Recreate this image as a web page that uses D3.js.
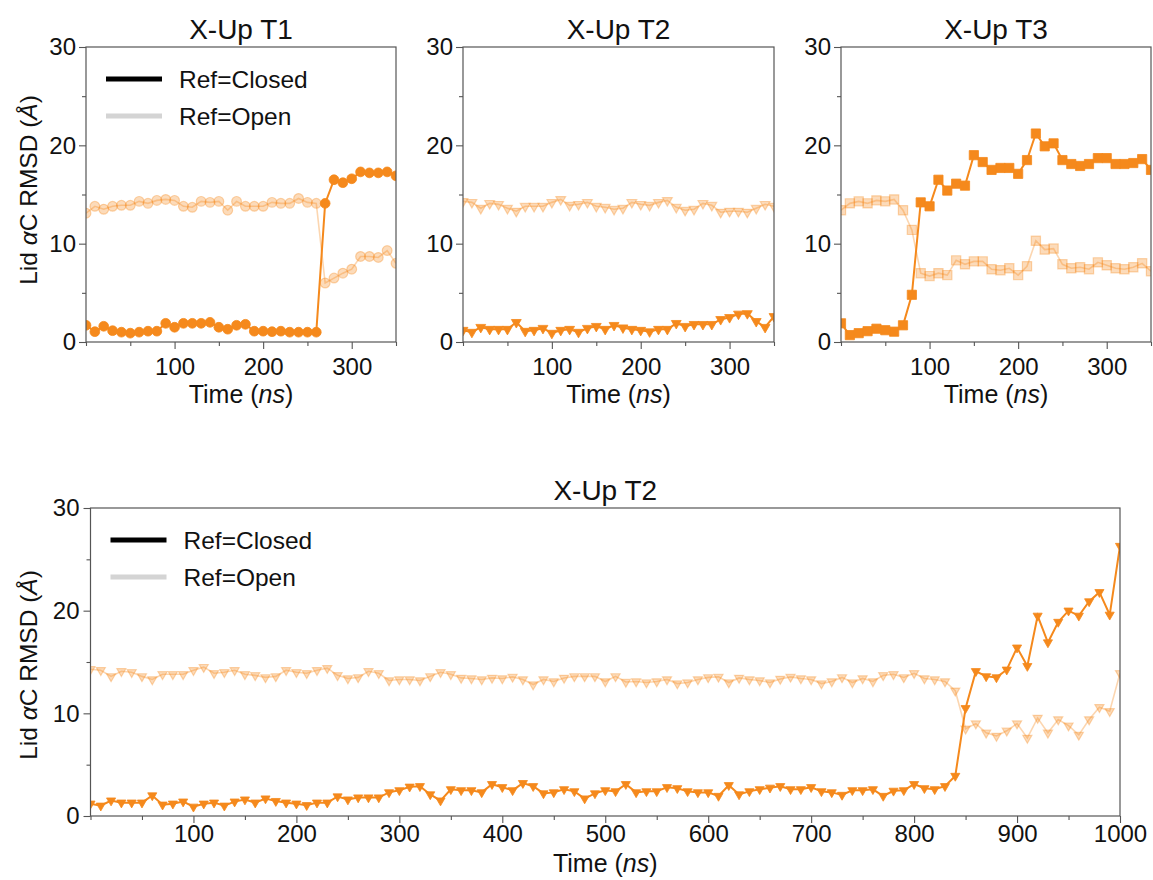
<!DOCTYPE html>
<html><head><meta charset="utf-8">
<script src="https://cdn.jsdelivr.net/npm/d3@7"></script>
<style>
body{margin:0;background:#fff}
svg{display:block}
text{font-family:"Liberation Sans",Arial,Helvetica,sans-serif;fill:#111}
</style>
</head><body>
<svg id="c" width="1153" height="880"></svg>
<script>
// ---------- data ----------
const timesShort = d3.range(0, 351, 10);   // 0..350 ns
const timesLong  = d3.range(0, 1001, 10);  // 0..1000 ns

const t1Closed = [1.7,1.05,1.6,1.15,1.0,0.9,1.0,1.1,1.1,1.9,1.5,1.9,1.9,1.9,2.0,1.5,1.3,1.7,1.8,1.1,
  1.1,1.05,1.1,1.0,1.0,1.0,1.0,14.1,16.5,16.2,16.6,17.3,17.2,17.2,17.3,16.9];
const t1Open = [13.1,13.8,13.5,13.8,13.9,13.9,14.3,14.1,14.4,14.5,14.4,13.8,13.7,14.3,14.2,14.3,13.4,14.3,13.8,13.8,
  13.8,14.2,14.1,14.1,14.6,14.2,14.1,6.0,6.5,7.0,7.4,8.7,8.7,8.6,9.3,8.0];

const t3Closed = [1.9,0.7,0.9,1.1,1.35,1.2,1.05,1.7,4.8,14.2,13.8,16.5,15.4,16.1,15.9,19.0,18.3,17.5,17.7,17.7,
  17.1,18.5,21.2,19.9,20.2,18.5,18.1,17.9,18.1,18.7,18.7,18.1,18.1,18.2,18.6,17.5];
const t3Open = [13.4,14.1,14.3,14.1,14.4,14.3,14.5,13.4,11.4,7.0,6.7,7.0,6.8,8.3,7.9,8.2,8.2,7.4,7.3,7.5,
  6.8,7.7,10.3,9.4,9.5,7.9,7.5,7.6,7.4,8.1,7.8,7.5,7.4,7.6,8.0,7.2];

const t2Closed = [1.2,1.0,1.5,1.3,1.3,1.3,2.0,1.1,1.2,1.4,0.9,1.2,1.3,1.0,1.4,1.6,1.3,1.7,1.45,1.3,
  1.2,1.05,1.3,1.3,1.9,1.6,1.8,1.8,1.8,2.3,2.5,2.85,2.9,2.1,1.5,2.6,
  2.5,2.5,2.3,3.1,2.8,2.5,3.2,2.9,2.2,2.3,2.6,2.4,1.7,2.2,2.5,2.4,3.1,2.3,2.4,2.4,
  2.8,2.7,2.4,2.3,2.3,1.95,3.0,2.1,2.4,2.6,2.75,2.9,2.6,2.6,
  2.8,2.4,2.3,2.05,2.5,2.5,2.6,1.95,2.45,2.5,3.1,2.7,2.6,2.9,3.9,10.5,14.1,13.6,13.5,14.25,
  16.4,14.6,19.5,16.9,18.9,20.0,19.5,20.9,21.8,19.6,26.3];
const t2Open = [14.3,14.2,13.6,14.1,14.0,13.6,13.3,13.8,13.8,13.8,14.2,14.5,13.9,14.0,14.2,13.8,13.7,13.5,13.6,14.2,
  14.0,13.9,14.2,14.4,13.7,13.4,13.5,14.1,13.9,13.2,13.3,13.3,13.2,13.6,14.0,13.8,
  13.45,13.4,13.3,13.45,13.4,13.55,13.3,12.8,13.3,13.1,13.45,13.6,13.6,13.6,13.1,13.6,13.05,13.1,13.0,13.1,
  13.3,12.9,13.0,13.3,13.5,13.55,13.0,13.45,13.3,13.2,13.0,13.35,13.55,13.4,
  13.3,12.9,13.1,13.5,13.0,13.4,13.1,13.7,13.8,13.5,13.9,13.4,13.3,13.1,12.2,8.5,9.0,8.1,7.8,8.3,
  9.0,7.6,9.55,8.1,9.4,8.8,7.9,9.4,10.6,10.2,13.9];

const yMajor = [0,10,20,30];
const yMinor = [5,15,25];
const xMajorShort = [100,200,300];
const xMinorShort = [0,50,150,250,350];
const xMajorLong = [100,200,300,400,500,600,700,800,900,1000];
const xMinorLong = [0,50,150,250,350,450,550,650,750,850,950];
const legendLabels = ["Ref=Closed","Ref=Open"];

// ---------- styles ----------
const ORANGE = "#f5891c";
const svg = d3.select("#c");

function symGen(kind, size){
  const t = kind === "circle" ? d3.symbolCircle : kind === "square" ? d3.symbolSquare : d3.symbolTriangle;
  return d3.symbol().type(t).size(size)();
}

function panel(cfg){
  const x = d3.scaleLinear().domain([0,cfg.xmax]).range([cfg.left,cfg.right]);
  const y = d3.scaleLinear().domain([0,30]).range([cfg.bottom,cfg.top]);
  const g = svg.append("g");
  const fmt = d3.format("d");

  // axes
  const axMinX = g.append("g").attr("transform",`translate(0,${cfg.bottom})`)
    .call(d3.axisBottom(x).tickValues(cfg.xMinor).tickSize(4).tickFormat(""));
  const axX = g.append("g").attr("transform",`translate(0,${cfg.bottom})`)
    .call(d3.axisBottom(x).tickValues(cfg.xMajor).tickSize(7).tickPadding(cfg.xPad).tickFormat(fmt));
  const axMinY = g.append("g").attr("transform",`translate(${cfg.left},0)`)
    .call(d3.axisLeft(y).tickValues(yMinor).tickSize(4).tickFormat(""));
  const axY = g.append("g").attr("transform",`translate(${cfg.left},0)`)
    .call(d3.axisLeft(y).tickValues(yMajor).tickSize(7).tickPadding(cfg.yPad).tickFormat(fmt));
  [axMinX,axX,axMinY,axY].forEach(a=>{
    a.select(".domain").remove();
    a.selectAll("line").attr("stroke","#555").attr("stroke-width",1.1);
    a.selectAll("text").style("font-size","24px").attr("fill","#111");
  });

  // clip
  const cid = "clip"+cfg.id;
  svg.append("clipPath").attr("id",cid).append("rect")
    .attr("x",cfg.left).attr("y",cfg.top-20).attr("width",cfg.right-cfg.left).attr("height",cfg.bottom-cfg.top+20);
  const plot = g.append("g").attr("clip-path",`url(#${cid})`);

  const line = d3.line().x((d,i)=>x(cfg.times[i])).y(d=>y(d));
  const sym = symGen(cfg.marker, cfg.msize);
  const rot = cfg.marker === "triangle" ? " rotate(180)" : "";

  // open (light) series
  plot.append("path").datum(cfg.open).attr("d",line)
    .attr("fill","none").attr("stroke",ORANGE).attr("stroke-opacity",0.35).attr("stroke-width",1.6);
  plot.selectAll(".mo").data(cfg.open).enter().append("path")
    .attr("d",sym).attr("transform",(d,i)=>`translate(${x(cfg.times[i])},${y(d)})${rot}`)
    .attr("fill",ORANGE).attr("fill-opacity",0.3).attr("stroke",ORANGE).attr("stroke-opacity",0.35).attr("stroke-width",1.2);

  // closed series
  plot.append("path").datum(cfg.closed).attr("d",line)
    .attr("fill","none").attr("stroke",ORANGE).attr("stroke-width",2);
  plot.selectAll(".mc").data(cfg.closed).enter().append("path")
    .attr("d",sym).attr("transform",(d,i)=>`translate(${x(cfg.times[i])},${y(d)})${rot}`)
    .attr("fill",ORANGE).attr("stroke",ORANGE).attr("stroke-width",0.8);

  // frame
  g.append("rect").attr("x",cfg.left).attr("y",cfg.top)
    .attr("width",cfg.right-cfg.left).attr("height",cfg.bottom-cfg.top)
    .attr("fill","none").attr("stroke","#555").attr("stroke-width",1.2);

  // title
  g.append("text").attr("x",(cfg.left+cfg.right)/2).attr("y",cfg.top-8)
    .attr("text-anchor","middle").style("font-size","28px").text(cfg.title);

  // x label
  const xl = g.append("text").attr("x",(cfg.left+cfg.right)/2).attr("y",cfg.xLabelY)
    .attr("text-anchor","middle").style("font-size","25px");
  xl.append("tspan").text("Time (");
  xl.append("tspan").attr("font-style","italic").text("ns");
  xl.append("tspan").text(")");

  if (cfg.yLabel){
    const yl = g.append("text")
      .attr("transform",`translate(37,${cfg.yLabelC}) rotate(-90)`)
      .attr("text-anchor","middle").style("font-size","24.5px");
    yl.append("tspan").text("Lid ");
    yl.append("tspan").attr("font-style","italic").text("\u03B1");
    yl.append("tspan").text("C RMSD (");
    yl.append("tspan").attr("font-style","italic").text("\u00C5");
    yl.append("tspan").text(")");
  }

  if (cfg.legend){
    const colors = ["#000000","#d4d4d4"];
    legendLabels.forEach((lab,k)=>{
      const ly = cfg.top + 32 + k*37;
      g.append("line").attr("x1",cfg.left+20).attr("x2",cfg.left+76)
        .attr("y1",ly).attr("y2",ly).attr("stroke",colors[k]).attr("stroke-width",5);
      g.append("text").attr("x",cfg.left+93).attr("y",ly+9)
        .style("font-size","24.5px").text(lab);
    });
  }
}

panel({id:1,left:86,right:396,top:47,bottom:342,xmax:350,xMajor:xMajorShort,xMinor:xMinorShort,
  xPad:9,yPad:3,xLabelY:403,yLabelC:190,title:"X-Up T1",times:timesShort,closed:t1Closed,open:t1Open,
  marker:"circle",msize:75,yLabel:true,legend:true});
panel({id:2,left:463,right:774,top:47,bottom:342,xmax:350,xMajor:xMajorShort,xMinor:xMinorShort,
  xPad:9,yPad:3,xLabelY:403,title:"X-Up T2",times:timesShort,
  closed:t2Closed.slice(0,timesShort.length),open:t2Open.slice(0,timesShort.length),
  marker:"triangle",msize:42,yLabel:false,legend:false});
panel({id:3,left:841,right:1151,top:47,bottom:342,xmax:350,xMajor:xMajorShort,xMinor:xMinorShort,
  xPad:9,yPad:3,xLabelY:403,title:"X-Up T3",times:timesShort,closed:t3Closed,open:t3Open,
  marker:"square",msize:85,yLabel:false,legend:false});
panel({id:4,left:90.5,right:1120,top:508,bottom:816,xmax:1000,xMajor:xMajorLong,xMinor:xMinorLong,
  xPad:2,yPad:4,xLabelY:872,yLabelC:665,title:"X-Up T2",times:timesLong,closed:t2Closed,open:t2Open,
  marker:"triangle",msize:36,yLabel:true,legend:true});
</script>
</body></html>
